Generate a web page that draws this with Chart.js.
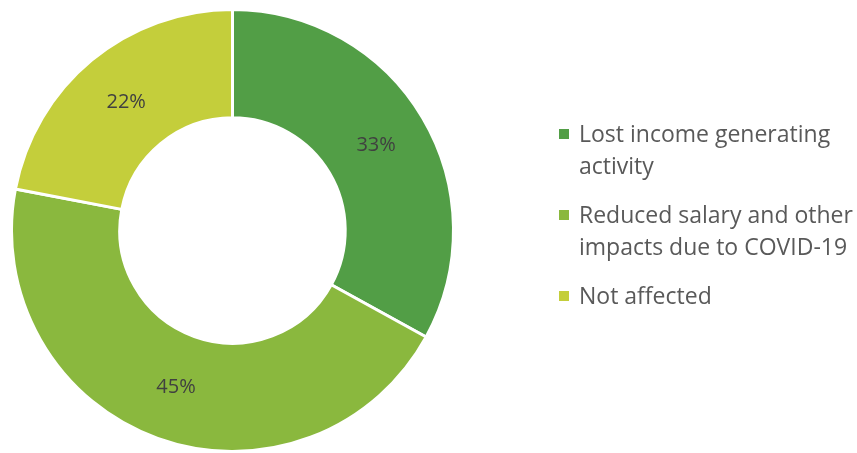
<!DOCTYPE html>
<html>
<head>
<meta charset="utf-8">
<script src="https://cdn.jsdelivr.net/npm/chart.js@4"></script>
<style>
  html, body { margin: 0; padding: 0; background: #fff; }
  #wrap { position: relative; width: 857px; height: 453px; }
  #legend {
    position: absolute; left: 559px; top: 117px; margin: 0; padding: 0; list-style: none;
    font-family: "Open Sans", sans-serif; font-size: 23px; line-height: 32px; color: #595959;
    white-space: nowrap;
  }
  #legend li { position: relative; padding-left: 20px; margin-bottom: 17px; }
  #legend .box { position: absolute; left: 0; top: 12px; width: 10px; height: 10px; }
</style>
</head>
<body>
<div id="wrap">
  <canvas id="impact" width="857" height="453"></canvas>
  <ul id="legend"></ul>
</div>
<script>
const categories = [
  ['Lost income generating', 'activity'],
  ['Reduced salary and other', 'impacts due to COVID-19'],
  ['Not affected']
];
const shares = [33, 45, 22];
const colors = ['#529e46', '#8ab83e', '#c4ce3b'];

// percentage text in the middle of each ring segment
const sliceLabels = {
  id: 'sliceLabels',
  afterDatasetsDraw(chart) {
    const ctx = chart.ctx;
    const meta = chart.getDatasetMeta(0);
    ctx.save();
    ctx.font = '20px "Open Sans", sans-serif';
    ctx.fillStyle = '#404040';
    ctx.textAlign = 'center';
    ctx.textBaseline = 'middle';
    meta.data.forEach((arc, i) => {
      const pos = arc.tooltipPosition();
      ctx.fillText(shares[i] + '%', pos.x, pos.y);
    });
    ctx.restore();
  }
};

const canvas = document.querySelector('#impact');
new Chart(canvas, {
  type: 'doughnut',
  data: {
    labels: categories.map(c => c.join(' ')),
    datasets: [{
      data: shares,
      backgroundColor: colors,
      borderColor: '#ffffff',
      borderWidth: 3
    }]
  },
  options: {
    responsive: false,
    animation: false,
    cutout: '51%',
    layout: { padding: { left: 10, top: 8, right: 402, bottom: 0 } },
    plugins: {
      legend: { display: false },
      tooltip: { enabled: false }
    }
  },
  plugins: [sliceLabels]
});

// legend built from the same arrays
const legend = document.querySelector('#legend');
categories.forEach((lines, i) => {
  const li = document.createElement('li');
  const box = document.createElement('span');
  box.className = 'box';
  box.style.background = colors[i];
  li.appendChild(box);
  li.appendChild(document.createTextNode(lines[0]));
  for (let k = 1; k < lines.length; k++) {
    li.appendChild(document.createElement('br'));
    li.appendChild(document.createTextNode(lines[k]));
  }
  legend.appendChild(li);
});
</script>
</body>
</html>
